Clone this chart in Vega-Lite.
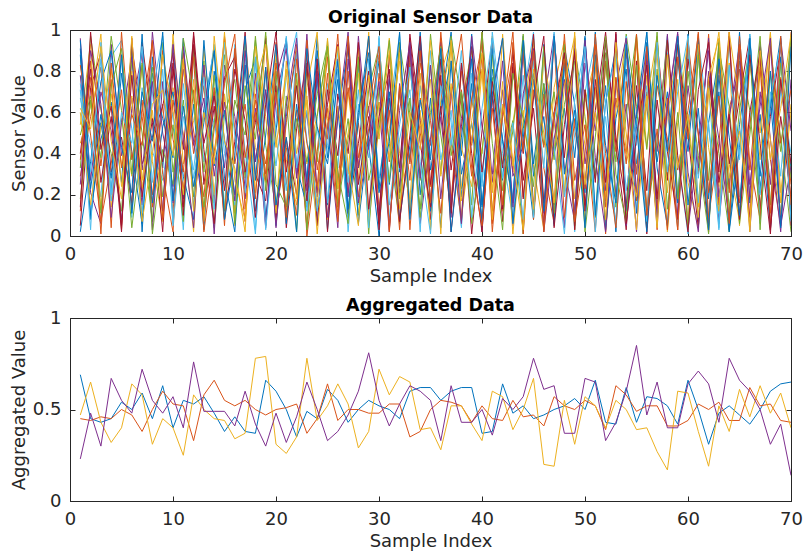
{
  "$schema": "https://vega.github.io/schema/vega-lite/v6.json",
  "background": "white",
  "padding": {"left": 9, "top": 8, "right": 11, "bottom": 0},
  "spacing": 10,
  "config": {
    "font": "DejaVu Sans",
    "view": {"stroke": "#262626", "strokeWidth": 1},
    "axis": {
      "grid": false,
      "tickSize": -5,
      "labelFlush": false,
      "domainColor": "#262626",
      "tickColor": "#262626",
      "labelColor": "#262626",
      "titleColor": "#262626",
      "labelFont": "DejaVu Sans",
      "titleFont": "DejaVu Sans",
      "labelFontSize": 18,
      "titleFontSize": 18,
      "titleFontWeight": "normal",
      "labelPadding": 14,
      "titlePadding": 4
    },
    "axisX": {"labelFlush": false},
    "title": {"font": "DejaVu Sans", "fontSize": 17.5, "fontWeight": "bold", "color": "#000000", "offset": -5}
  },
  "datasets": {
    "s": [
      {"x":1,"a":0.91,"b":0.12,"c":0.45,"d":0.78,"e":0.33,"f":0.67,"g":0.05,"h":0.88,"i":0.29,"j":0.54,"k":0.96,"l":0.18,"m":0.71,"n":0.40,"o":0.02,"p":0.83,"q":0.60,"r":0.25,"s":0.49,"t":0.74,"u":0.14,"v":0.95,"w":0.37,"y":0.62},
      {"x":2,"a":0.08,"b":0.85,"c":0.63,"d":0.21,"e":0.97,"f":0.44,"g":0.72,"h":0.10,"i":0.58,"j":0.93,"k":0.27,"l":0.66,"m":0.03,"n":0.81,"o":0.36,"p":0.49,"q":0.15,"r":0.90,"s":0.68,"t":0.31,"u":0.99,"v":0.23,"w":0.77,"y":0.52},
      {"x":3,"a":0.55,"b":0.34,"c":0.98,"d":0.06,"e":0.61,"f":0.19,"g":0.89,"h":0.47,"i":0.82,"j":0.13,"k":0.70,"l":0.38,"m":0.94,"n":0.26,"o":0.75,"p":0.07,"q":0.53,"r":0.64,"s":0.11,"t":0.86,"u":0.42,"v":0.59,"w":0.01,"y":0.92},
      {"x":4,"a":0.22,"b":0.76,"c":0.14,"d":0.93,"e":0.40,"f":0.87,"g":0.31,"h":0.65,"i":0.04,"j":0.69,"k":0.51,"l":0.97,"m":0.20,"n":0.58,"o":0.90,"p":0.35,"q":0.81,"r":0.09,"s":0.73,"t":0.17,"u":0.63,"v":0.28,"w":0.84,"y":0.46},
      {"x":5,"a":0.79,"b":0.03,"c":0.57,"d":0.39,"e":0.12,"f":0.95,"g":0.48,"h":0.26,"i":0.99,"j":0.34,"k":0.08,"l":0.61,"m":0.86,"n":0.02,"o":0.43,"p":0.71,"q":0.24,"r":0.55,"s":0.91,"t":0.60,"u":0.05,"v":0.88,"w":0.33,"y":0.18},
      {"x":6,"a":0.41,"b":0.92,"c":0.29,"d":0.67,"e":0.85,"f":0.09,"g":0.16,"h":0.93,"i":0.37,"j":0.80,"k":0.62,"l":0.04,"m":0.52,"n":0.96,"o":0.21,"p":0.13,"q":0.68,"r":0.87,"s":0.30,"t":0.45,"u":0.78,"v":0.11,"w":0.59,"y":0.97},
      {"x":7,"a":0.06,"b":0.58,"c":0.83,"d":0.15,"e":0.50,"f":0.72,"g":0.94,"h":0.02,"i":0.66,"j":0.23,"k":0.89,"l":0.45,"m":0.11,"n":0.35,"o":0.98,"p":0.60,"q":0.07,"r":0.32,"s":0.84,"t":0.92,"u":0.19,"v":0.70,"w":0.44,"y":0.27},
      {"x":8,"a":0.87,"b":0.20,"c":0.36,"d":0.99,"e":0.07,"f":0.41,"g":0.55,"h":0.79,"i":0.14,"j":0.61,"k":0.03,"l":0.82,"m":0.69,"n":0.48,"o":0.16,"p":0.94,"q":0.39,"r":0.75,"s":0.01,"t":0.26,"u":0.57,"v":0.46,"w":0.95,"y":0.64},
      {"x":9,"a":0.33,"b":0.64,"c":0.07,"d":0.50,"e":0.94,"f":0.27,"g":0.02,"h":0.57,"i":0.90,"j":0.09,"k":0.75,"l":0.19,"m":0.97,"n":0.63,"o":0.53,"p":0.30,"q":0.88,"r":0.12,"s":0.42,"t":0.81,"u":0.36,"v":0.99,"w":0.08,"y":0.71},
      {"x":10,"a":0.95,"b":0.11,"c":0.72,"d":0.24,"e":0.31,"f":0.60,"g":0.81,"h":0.38,"i":0.47,"j":0.98,"k":0.16,"l":0.54,"m":0.06,"n":0.89,"o":0.70,"p":0.02,"q":0.61,"r":0.93,"s":0.25,"t":0.05,"u":0.84,"v":0.17,"w":0.66,"y":0.39},
      {"x":11,"a":0.18,"b":0.89,"c":0.50,"d":0.81,"e":0.66,"f":0.03,"g":0.42,"h":0.96,"i":0.23,"j":0.35,"k":0.92,"l":0.07,"m":0.74,"n":0.14,"o":0.29,"p":0.85,"q":0.20,"r":0.47,"s":0.96,"t":0.58,"u":0.10,"v":0.63,"w":0.31,"y":0.86},
      {"x":12,"a":0.64,"b":0.40,"c":0.02,"d":0.46,"e":0.19,"f":0.88,"g":0.97,"h":0.13,"i":0.71,"j":0.56,"k":0.44,"l":0.91,"m":0.28,"n":0.99,"o":0.08,"p":0.51,"q":0.76,"r":0.04,"s":0.67,"t":0.32,"u":0.93,"v":0.24,"w":0.87,"y":0.12},
      {"x":13,"a":0.03,"b":0.73,"c":0.91,"d":0.12,"e":0.85,"f":0.36,"g":0.25,"h":0.62,"i":0.09,"j":0.82,"k":0.67,"l":0.31,"m":0.58,"n":0.42,"o":0.95,"p":0.19,"q":0.07,"r":0.83,"s":0.14,"t":0.77,"u":0.45,"v":0.55,"w":0.02,"y":0.60},
      {"x":14,"a":0.80,"b":0.16,"c":0.39,"d":0.70,"e":0.04,"f":0.57,"g":0.63,"h":0.91,"i":0.52,"j":0.20,"k":0.01,"l":0.78,"m":0.93,"n":0.06,"o":0.34,"p":0.72,"q":0.97,"r":0.29,"s":0.55,"t":0.13,"u":0.68,"v":0.90,"w":0.41,"y":0.35},
      {"x":15,"a":0.47,"b":0.97,"c":0.68,"d":0.33,"e":0.59,"f":0.14,"g":0.08,"h":0.28,"i":0.96,"j":0.69,"k":0.83,"l":0.12,"m":0.40,"n":0.77,"o":0.61,"p":0.05,"q":0.46,"r":0.65,"s":0.88,"t":0.94,"u":0.22,"v":0.08,"w":0.74,"y":0.99},
      {"x":16,"a":0.12,"b":0.52,"c":0.05,"d":0.89,"e":0.76,"f":0.93,"g":0.46,"h":0.02,"i":0.35,"j":0.11,"k":0.58,"l":0.66,"m":0.15,"n":0.87,"o":0.20,"p":0.91,"q":0.33,"r":0.17,"s":0.06,"t":0.49,"u":0.81,"v":0.39,"w":0.98,"y":0.27},
      {"x":17,"a":0.92,"b":0.07,"c":0.84,"d":0.18,"e":0.28,"f":0.41,"g":0.99,"h":0.71,"i":0.64,"j":0.94,"k":0.24,"l":0.49,"m":0.86,"n":0.31,"o":0.83,"p":0.38,"q":0.02,"r":0.90,"s":0.73,"t":0.21,"u":0.56,"v":0.97,"w":0.13,"y":0.08},
      {"x":18,"a":0.36,"b":0.69,"c":0.21,"d":0.62,"e":0.97,"f":0.01,"g":0.30,"h":0.86,"i":0.18,"j":0.43,"k":0.79,"l":0.95,"m":0.03,"n":0.55,"o":0.12,"p":0.66,"q":0.92,"r":0.36,"s":0.47,"t":0.87,"u":0.09,"v":0.27,"w":0.60,"y":0.74},
      {"x":19,"a":0.71,"b":0.30,"c":0.97,"d":0.04,"e":0.44,"f":0.80,"g":0.17,"h":0.09,"i":0.82,"j":0.26,"k":0.05,"l":0.22,"m":0.68,"n":0.96,"o":0.49,"p":0.27,"q":0.58,"r":0.71,"s":0.99,"t":0.03,"u":0.64,"v":0.82,"w":0.35,"y":0.93},
      {"x":20,"a":0.05,"b":0.94,"c":0.48,"d":0.77,"e":0.13,"f":0.62,"g":0.73,"h":0.51,"i":0.07,"j":0.88,"k":0.67,"l":0.80,"m":0.34,"n":0.09,"o":0.93,"p":0.84,"q":0.11,"r":0.04,"s":0.25,"t":0.56,"u":0.99,"v":0.15,"w":0.70,"y":0.43},
      {"x":21,"a":0.58,"b":0.25,"c":0.11,"d":0.95,"e":0.68,"f":0.22,"g":0.04,"h":0.96,"i":0.55,"j":0.37,"k":0.91,"l":0.08,"m":0.77,"n":0.47,"o":0.06,"p":0.43,"q":0.85,"r":0.63,"s":0.14,"t":0.97,"u":0.31,"v":0.48,"w":0.09,"y":0.81},
      {"x":22,"a":0.89,"b":0.61,"c":0.76,"d":0.29,"e":0.02,"f":0.90,"g":0.52,"h":0.34,"i":0.93,"j":0.15,"k":0.28,"l":0.57,"m":0.99,"n":0.20,"o":0.64,"p":0.10,"q":0.40,"r":0.96,"s":0.79,"t":0.33,"u":0.73,"v":0.02,"w":0.86,"y":0.18},
      {"x":23,"a":0.26,"b":0.04,"c":0.35,"d":0.60,"e":0.81,"f":0.47,"g":0.88,"h":0.14,"i":0.00,"j":0.72,"k":0.98,"l":0.36,"m":0.12,"n":0.84,"o":0.27,"p":0.95,"q":0.68,"r":0.22,"s":0.03,"t":0.61,"u":0.17,"v":0.91,"w":0.45,"y":0.66},
      {"x":24,"a":0.97,"b":0.83,"c":0.59,"d":0.08,"e":0.36,"f":0.06,"g":0.21,"h":0.77,"i":0.41,"j":0.99,"k":0.19,"l":0.69,"m":0.53,"n":0.05,"o":0.90,"p":0.32,"q":0.14,"r":0.80,"s":0.58,"t":0.12,"u":0.86,"v":0.53,"w":0.24,"y":0.01},
      {"x":25,"a":0.15,"b":0.47,"c":0.90,"d":0.53,"e":0.95,"f":0.74,"g":0.64,"h":0.03,"i":0.87,"j":0.08,"k":0.55,"l":0.93,"m":0.16,"n":0.71,"o":0.38,"p":0.62,"q":0.96,"r":0.09,"s":0.92,"t":0.44,"u":0.02,"v":0.35,"w":0.79,"y":0.57},
      {"x":26,"a":0.62,"b":0.98,"c":0.17,"d":0.86,"e":0.23,"f":0.33,"g":0.93,"h":0.58,"i":0.26,"j":0.63,"k":0.04,"l":0.14,"m":0.81,"n":0.39,"o":0.85,"p":0.07,"q":0.23,"r":0.57,"s":0.31,"t":0.90,"u":0.69,"v":0.76,"w":0.10,"y":0.92},
      {"x":27,"a":0.09,"b":0.21,"c":0.70,"d":0.19,"e":0.57,"f":0.97,"g":0.11,"h":0.92,"i":0.72,"j":0.30,"k":0.86,"l":0.47,"m":0.02,"n":0.94,"o":0.11,"p":0.80,"q":0.50,"r":0.99,"s":0.06,"t":0.26,"u":0.40,"v":0.13,"w":0.97,"y":0.34},
      {"x":28,"a":0.83,"b":0.55,"c":0.27,"d":0.97,"e":0.10,"f":0.15,"g":0.45,"h":0.06,"i":0.34,"j":0.91,"k":0.33,"l":0.85,"m":0.64,"n":0.25,"o":0.56,"p":0.19,"q":0.79,"r":0.16,"s":0.87,"t":0.71,"u":0.94,"v":0.60,"w":0.38,"y":0.05},
      {"x":29,"a":0.44,"b":0.10,"c":0.99,"d":0.42,"e":0.71,"f":0.86,"g":0.80,"h":0.49,"i":0.97,"j":0.05,"k":0.63,"l":0.01,"m":0.38,"n":0.58,"o":0.97,"p":0.52,"q":0.08,"r":0.44,"s":0.27,"t":0.04,"u":0.13,"v":0.89,"w":0.62,"y":0.78},
      {"x":30,"a":0.00,"b":0.79,"c":0.06,"d":0.65,"e":0.92,"f":0.28,"g":0.03,"h":0.85,"i":0.12,"j":0.54,"k":0.10,"l":0.72,"m":0.96,"n":0.07,"o":0.23,"p":0.88,"q":0.65,"r":0.75,"s":0.51,"t":0.97,"u":0.58,"v":0.21,"w":0.92,"y":0.47},
      {"x":31,"a":0.76,"b":0.36,"c":0.52,"d":0.02,"e":0.45,"f":0.60,"g":0.67,"h":0.25,"i":0.61,"j":0.96,"k":0.78,"l":0.26,"m":0.09,"n":0.88,"o":0.70,"p":0.02,"q":0.37,"r":0.05,"s":0.95,"t":0.15,"u":0.81,"v":0.46,"w":0.03,"y":0.90},
      {"x":32,"a":0.31,"b":0.92,"c":0.85,"d":0.74,"e":0.06,"f":0.98,"g":0.24,"h":0.69,"i":0.03,"j":0.40,"k":0.21,"l":0.94,"m":0.47,"n":0.33,"o":0.08,"p":0.73,"q":0.89,"r":0.61,"s":0.18,"t":0.54,"u":0.07,"v":0.99,"w":0.71,"y":0.13},
      {"x":33,"a":0.93,"b":0.03,"c":0.14,"d":0.36,"e":0.84,"f":0.11,"g":0.98,"h":0.37,"i":0.88,"j":0.18,"k":0.92,"l":0.59,"m":0.71,"n":0.96,"o":0.44,"p":0.35,"q":0.12,"r":0.94,"s":0.67,"t":0.82,"u":0.49,"v":0.08,"w":0.27,"y":0.60},
      {"x":34,"a":0.20,"b":0.67,"c":0.61,"d":0.91,"e":0.27,"f":0.73,"g":0.56,"h":0.94,"i":0.50,"j":0.79,"k":0.06,"l":0.13,"m":0.02,"n":0.45,"o":0.99,"p":0.90,"q":0.53,"r":0.28,"s":0.09,"t":0.36,"u":0.97,"v":0.66,"w":0.84,"y":0.42},
      {"x":35,"a":0.67,"b":0.44,"c":0.04,"d":0.17,"e":0.98,"f":0.39,"g":0.08,"h":0.12,"i":0.24,"j":0.03,"k":0.47,"l":0.83,"m":0.90,"n":0.14,"o":0.32,"p":0.16,"q":0.76,"r":0.83,"s":0.60,"t":0.01,"u":0.25,"v":0.37,"w":0.56,"y":0.95},
      {"x":36,"a":0.04,"b":0.96,"c":0.79,"d":0.58,"e":0.49,"f":0.89,"g":0.86,"h":0.63,"i":0.95,"j":0.66,"k":0.94,"l":0.30,"m":0.37,"n":0.78,"o":0.61,"p":0.99,"q":0.01,"r":0.18,"s":0.92,"t":0.73,"u":0.63,"v":0.91,"w":0.11,"y":0.29},
      {"x":37,"a":0.85,"b":0.14,"c":0.95,"d":0.09,"e":0.14,"f":0.55,"g":0.32,"h":0.99,"i":0.17,"j":0.92,"k":0.15,"l":0.97,"m":0.61,"n":0.02,"o":0.85,"p":0.46,"q":0.95,"r":0.72,"s":0.39,"t":0.44,"u":0.11,"v":0.02,"w":0.68,"y":0.74},
      {"x":38,"a":0.39,"b":0.71,"c":0.23,"d":0.83,"e":0.63,"f":0.05,"g":0.70,"h":0.30,"i":0.80,"j":0.10,"k":0.57,"l":0.65,"m":0.04,"n":0.53,"o":0.19,"p":0.07,"q":0.43,"r":0.06,"s":0.70,"t":0.90,"u":0.84,"v":0.48,"w":0.98,"y":0.17},
      {"x":39,"a":0.98,"b":0.29,"c":0.66,"d":0.45,"e":0.90,"f":0.79,"g":0.01,"h":0.55,"i":0.44,"j":0.47,"k":0.87,"l":0.06,"m":0.87,"n":0.92,"o":0.74,"p":0.67,"q":0.24,"r":0.97,"s":0.15,"t":0.09,"u":0.40,"v":0.86,"w":0.33,"y":0.56},
      {"x":40,"a":0.14,"b":0.88,"c":0.40,"d":0.96,"e":0.03,"f":0.24,"g":0.51,"h":0.07,"i":0.99,"j":0.81,"k":0.02,"l":0.41,"m":0.26,"n":0.31,"o":0.04,"p":0.93,"q":0.80,"r":0.53,"s":0.99,"t":0.62,"u":0.02,"v":0.15,"w":0.05,"y":0.89},
      {"x":41,"a":0.70,"b":0.02,"c":0.97,"d":0.26,"e":0.77,"f":0.93,"g":0.96,"h":0.81,"i":0.06,"j":0.21,"k":0.66,"l":0.88,"m":0.99,"n":0.68,"o":0.91,"p":0.12,"q":0.08,"r":0.30,"s":0.45,"t":0.96,"u":0.75,"v":0.69,"w":0.62,"y":0.22},
      {"x":42,"a":0.27,"b":0.59,"c":0.12,"d":0.71,"e":0.35,"f":0.40,"g":0.13,"h":0.47,"i":0.63,"j":0.75,"k":0.96,"l":0.22,"m":0.55,"n":0.07,"o":0.46,"p":0.58,"q":0.98,"r":0.85,"s":0.03,"t":0.28,"u":0.33,"v":0.96,"w":0.15,"y":0.64},
      {"x":43,"a":0.82,"b":0.99,"c":0.55,"d":0.05,"e":0.56,"f":0.08,"g":0.84,"h":0.16,"i":0.31,"j":0.01,"k":0.29,"l":0.51,"m":0.19,"n":0.82,"o":0.17,"p":0.88,"q":0.34,"r":0.14,"s":0.79,"t":0.55,"u":0.91,"v":0.06,"w":0.94,"y":0.37},
      {"x":44,"a":0.50,"b":0.19,"c":0.88,"d":0.90,"e":0.01,"f":0.67,"g":0.27,"h":0.97,"i":0.92,"j":0.57,"k":0.44,"l":0.98,"m":0.78,"n":0.40,"o":0.95,"p":0.01,"q":0.61,"r":0.69,"s":0.57,"t":0.08,"u":0.18,"v":0.52,"w":0.41,"y":0.03},
      {"x":45,"a":0.08,"b":0.76,"c":0.34,"d":0.15,"e":0.96,"f":0.99,"g":0.62,"h":0.35,"i":0.08,"j":0.96,"k":0.89,"l":0.10,"m":0.09,"n":0.98,"o":0.29,"p":0.71,"q":0.13,"r":0.91,"s":0.24,"t":0.85,"u":0.67,"v":0.79,"w":0.90,"y":0.81},
      {"x":46,"a":0.93,"b":0.33,"c":0.03,"d":0.64,"e":0.44,"f":0.13,"g":0.05,"h":0.74,"i":0.69,"j":0.13,"k":0.11,"l":0.74,"m":0.87,"n":0.16,"o":0.58,"p":0.43,"q":0.87,"r":0.02,"s":0.92,"t":0.33,"u":0.97,"v":0.12,"w":0.02,"y":0.50},
      {"x":47,"a":0.40,"b":0.06,"c":0.72,"d":0.98,"e":0.70,"f":0.56,"g":0.97,"h":0.05,"i":0.15,"j":0.42,"k":0.60,"l":0.37,"m":0.43,"n":0.60,"o":0.06,"p":0.94,"q":0.55,"r":0.47,"s":0.11,"t":0.99,"u":0.04,"v":0.97,"w":0.58,"y":0.16},
      {"x":48,"a":0.62,"b":0.91,"c":0.95,"d":0.33,"e":0.20,"f":0.82,"g":0.38,"h":0.92,"i":0.98,"j":0.90,"k":0.04,"l":0.93,"m":0.01,"n":0.89,"o":0.84,"p":0.09,"q":0.21,"r":0.76,"s":0.64,"t":0.19,"u":0.54,"v":0.30,"w":0.86,"y":0.73},
      {"x":49,"a":0.11,"b":0.52,"c":0.18,"d":0.07,"e":0.91,"f":0.02,"g":0.90,"h":0.64,"i":0.27,"j":0.03,"k":0.96,"l":0.05,"m":0.66,"n":0.03,"o":0.38,"p":0.57,"q":0.99,"r":0.10,"s":0.85,"t":0.49,"u":0.89,"v":0.61,"w":0.07,"y":0.97},
      {"x":50,"a":0.96,"b":0.23,"c":0.47,"d":0.84,"e":0.58,"f":0.70,"g":0.15,"h":0.21,"i":0.54,"j":0.65,"k":0.35,"l":0.71,"m":0.92,"n":0.71,"o":0.97,"p":0.23,"q":0.06,"r":0.95,"s":0.02,"t":0.92,"u":0.12,"v":0.04,"w":0.40,"y":0.25},
      {"x":51,"a":0.28,"b":0.84,"c":0.89,"d":0.51,"e":0.09,"f":0.94,"g":0.61,"h":0.99,"i":0.02,"j":0.86,"k":0.72,"l":0.28,"m":0.12,"n":0.26,"o":0.10,"p":0.98,"q":0.72,"r":0.38,"s":0.48,"t":0.02,"u":0.76,"v":0.88,"w":0.93,"y":0.60},
      {"x":52,"a":0.73,"b":0.01,"c":0.05,"d":0.95,"e":0.84,"f":0.32,"g":0.99,"h":0.03,"i":0.85,"j":0.19,"k":0.22,"l":0.89,"m":0.58,"n":0.95,"o":0.65,"p":0.40,"q":0.17,"r":0.02,"s":0.97,"t":0.65,"u":0.26,"v":0.44,"w":0.14,"y":0.08},
      {"x":53,"a":0.02,"b":0.67,"c":0.61,"d":0.19,"e":0.36,"f":0.07,"g":0.44,"h":0.57,"i":0.41,"j":0.77,"k":0.98,"l":0.14,"m":0.05,"n":0.48,"o":0.91,"p":0.04,"q":0.88,"r":0.73,"s":0.30,"t":0.89,"u":0.99,"v":0.16,"w":0.77,"y":0.94},
      {"x":54,"a":0.89,"b":0.40,"c":0.96,"d":0.64,"e":0.98,"f":0.86,"g":0.03,"h":0.81,"i":0.93,"j":0.08,"k":0.05,"l":0.59,"m":0.97,"n":0.14,"o":0.12,"p":0.75,"q":0.50,"r":0.96,"s":0.07,"t":0.22,"u":0.06,"v":0.93,"w":0.35,"y":0.41},
      {"x":55,"a":0.35,"b":0.95,"c":0.30,"d":0.02,"e":0.63,"f":0.44,"g":0.73,"h":0.11,"i":0.17,"j":0.97,"k":0.58,"l":0.98,"m":0.30,"n":0.85,"o":0.59,"p":0.30,"q":0.03,"r":0.21,"s":0.83,"t":0.57,"u":0.48,"v":0.53,"w":0.98,"y":0.19},
      {"x":56,"a":0.64,"b":0.12,"c":0.78,"d":0.88,"e":0.04,"f":0.99,"g":0.22,"h":0.94,"i":0.70,"j":0.43,"k":0.91,"l":0.08,"m":0.73,"n":0.01,"o":0.99,"p":0.92,"q":0.65,"r":0.85,"s":0.42,"t":0.07,"u":0.83,"v":0.02,"w":0.10,"y":0.68},
      {"x":57,"a":0.07,"b":0.73,"c":0.13,"d":0.41,"e":0.81,"f":0.16,"g":0.95,"h":0.36,"i":0.03,"j":0.89,"k":0.14,"l":0.46,"m":0.06,"n":0.66,"o":0.33,"p":0.13,"q":0.97,"r":0.09,"s":0.99,"t":0.94,"u":0.18,"v":0.78,"w":0.52,"y":0.04},
      {"x":58,"a":0.97,"b":0.47,"c":0.58,"d":0.98,"e":0.29,"f":0.62,"g":0.41,"h":0.70,"i":0.87,"j":0.02,"k":0.63,"l":0.95,"m":0.89,"n":0.27,"o":0.05,"p":0.67,"q":0.21,"r":0.62,"s":0.13,"t":0.31,"u":0.95,"v":0.41,"w":0.03,"y":0.88},
      {"x":59,"a":0.19,"b":0.03,"c":0.92,"d":0.10,"e":0.97,"f":0.05,"g":0.08,"h":0.16,"i":0.32,"j":0.55,"k":0.99,"l":0.18,"m":0.38,"n":0.93,"o":0.86,"p":0.03,"q":0.76,"r":0.98,"s":0.60,"t":0.70,"u":0.39,"v":0.97,"w":0.87,"y":0.33},
      {"x":60,"a":0.55,"b":0.89,"c":0.26,"d":0.73,"e":0.53,"f":0.90,"g":0.86,"h":0.98,"i":0.61,"j":0.96,"k":0.03,"l":0.80,"m":0.01,"n":0.49,"o":0.41,"p":0.95,"q":0.05,"r":0.31,"s":0.04,"t":0.97,"u":0.02,"v":0.15,"w":0.47,"y":0.59},
      {"x":61,"a":0.91,"b":0.30,"c":0.04,"d":0.33,"e":0.15,"f":0.28,"g":0.50,"h":0.07,"i":0.98,"j":0.14,"k":0.45,"l":0.39,"m":0.96,"n":0.04,"o":0.96,"p":0.49,"q":0.93,"r":0.02,"s":0.88,"t":0.16,"u":0.71,"v":0.62,"w":0.99,"y":0.09},
      {"x":62,"a":0.05,"b":0.98,"c":0.69,"d":0.96,"e":0.76,"f":0.73,"g":0.02,"h":0.55,"i":0.09,"j":0.72,"k":0.90,"l":0.01,"m":0.52,"n":0.79,"o":0.18,"p":0.06,"q":0.43,"r":0.80,"s":0.27,"t":0.55,"u":0.94,"v":0.03,"w":0.21,"y":0.77},
      {"x":63,"a":0.78,"b":0.15,"c":0.99,"d":0.06,"e":0.40,"f":0.04,"g":0.94,"h":0.88,"i":0.45,"j":0.24,"k":0.19,"l":0.91,"m":0.11,"n":0.31,"o":0.70,"p":0.84,"q":0.12,"r":0.47,"s":0.95,"t":0.03,"u":0.26,"v":0.86,"w":0.68,"y":0.96},
      {"x":64,"a":0.23,"b":0.62,"c":0.35,"d":0.58,"e":0.02,"f":0.95,"g":0.35,"h":0.02,"i":0.99,"j":0.84,"k":0.57,"l":0.63,"m":0.83,"n":0.97,"o":0.03,"p":0.21,"q":0.99,"r":0.08,"s":0.12,"t":0.82,"u":0.59,"v":0.48,"w":0.06,"y":0.28},
      {"x":65,"a":0.99,"b":0.81,"c":0.07,"d":0.85,"e":0.88,"f":0.19,"g":0.67,"h":0.43,"i":0.16,"j":0.05,"k":0.93,"l":0.06,"m":0.37,"n":0.09,"o":0.54,"p":0.97,"q":0.64,"r":0.91,"s":0.61,"t":0.39,"u":0.08,"v":0.10,"w":0.93,"y":0.51},
      {"x":66,"a":0.16,"b":0.09,"c":0.83,"d":0.19,"e":0.61,"f":0.57,"g":0.97,"h":0.96,"i":0.54,"j":0.91,"k":0.02,"l":0.49,"m":0.98,"n":0.60,"o":0.90,"p":0.36,"q":0.02,"r":0.25,"s":0.92,"t":0.98,"u":0.88,"v":0.96,"w":0.32,"y":0.05},
      {"x":67,"a":0.59,"b":0.92,"c":0.50,"d":0.94,"e":0.10,"f":0.88,"g":0.13,"h":0.21,"i":0.88,"j":0.37,"k":0.70,"l":0.97,"m":0.06,"n":0.89,"o":0.23,"p":0.08,"q":0.81,"r":0.63,"s":0.03,"t":0.20,"u":0.45,"v":0.29,"w":0.82,"y":0.90},
      {"x":68,"a":0.04,"b":0.37,"c":0.98,"d":0.47,"e":0.93,"f":0.03,"g":0.58,"h":0.66,"i":0.06,"j":0.99,"k":0.25,"l":0.15,"m":0.70,"n":0.03,"o":0.62,"p":0.92,"q":0.47,"r":0.96,"s":0.80,"t":0.66,"u":0.01,"v":0.80,"w":0.11,"y":0.37},
      {"x":69,"a":0.87,"b":0.05,"c":0.21,"d":0.02,"e":0.47,"f":0.71,"g":0.92,"h":0.09,"i":0.77,"j":0.16,"k":0.96,"l":0.84,"m":0.29,"n":0.58,"o":0.97,"p":0.45,"q":0.10,"r":0.05,"s":0.41,"t":0.93,"u":0.76,"v":0.04,"w":0.97,"y":0.62},
      {"x":70,"a":0.32,"b":0.99,"c":0.64,"d":0.76,"e":0.02,"f":0.40,"g":0.05,"h":0.97,"i":0.25,"j":0.60,"k":0.51,"l":0.28,"m":0.92,"n":0.19,"o":0.08,"p":0.71,"q":0.96,"r":0.34,"s":0.97,"t":0.07,"u":0.35,"v":0.92,"w":0.15,"y":0.98}
    ],
    "g": [
      {"x":1,"g1":0.69,"g2":0.45,"g3":0.47,"g4":0.23},{"x":2,"g1":0.45,"g2":0.44,"g3":0.65,"g4":0.48},{"x":3,"g1":0.43,"g2":0.46,"g3":0.43,"g4":0.30},{"x":4,"g1":0.45,"g2":0.45,"g3":0.32,"g4":0.67},{"x":5,"g1":0.54,"g2":0.50,"g3":0.40,"g4":0.55},
      {"x":6,"g1":0.50,"g2":0.47,"g3":0.64,"g4":0.48},{"x":7,"g1":0.59,"g2":0.38,"g3":0.58,"g4":0.72},{"x":8,"g1":0.45,"g2":0.50,"g3":0.31,"g4":0.55},{"x":9,"g1":0.63,"g2":0.60,"g3":0.45,"g4":0.48},{"x":10,"g1":0.40,"g2":0.53,"g3":0.40,"g4":0.57},
      {"x":11,"g1":0.55,"g2":0.52,"g3":0.25,"g4":0.40},{"x":12,"g1":0.53,"g2":0.33,"g3":0.58,"g4":0.76},{"x":13,"g1":0.57,"g2":0.58,"g3":0.50,"g4":0.49},{"x":14,"g1":0.48,"g2":0.66,"g3":0.45,"g4":0.49},{"x":15,"g1":0.38,"g2":0.55,"g3":0.44,"g4":0.49},
      {"x":16,"g1":0.46,"g2":0.52,"g3":0.34,"g4":0.41},{"x":17,"g1":0.38,"g2":0.55,"g3":0.37,"g4":0.60},{"x":18,"g1":0.37,"g2":0.50,"g3":0.78,"g4":0.42},{"x":19,"g1":0.66,"g2":0.47,"g3":0.79,"g4":0.30},{"x":20,"g1":0.60,"g2":0.50,"g3":0.31,"g4":0.48},
      {"x":21,"g1":0.50,"g2":0.51,"g3":0.26,"g4":0.32},{"x":22,"g1":0.35,"g2":0.53,"g3":0.35,"g4":0.46},{"x":23,"g1":0.49,"g2":0.37,"g3":0.78,"g4":0.65},{"x":24,"g1":0.45,"g2":0.45,"g3":0.44,"g4":0.50},{"x":25,"g1":0.61,"g2":0.64,"g3":0.52,"g4":0.33},
      {"x":26,"g1":0.55,"g2":0.44,"g3":0.64,"g4":0.38},{"x":27,"g1":0.43,"g2":0.50,"g3":0.53,"g4":0.47},{"x":28,"g1":0.50,"g2":0.50,"g3":0.29,"g4":0.60},{"x":29,"g1":0.55,"g2":0.48,"g3":0.38,"g4":0.81},{"x":30,"g1":0.52,"g2":0.48,"g3":0.72,"g4":0.55},
      {"x":31,"g1":0.50,"g2":0.53,"g3":0.58,"g4":0.41},{"x":32,"g1":0.45,"g2":0.53,"g3":0.68,"g4":0.53},{"x":33,"g1":0.60,"g2":0.35,"g3":0.65,"g4":0.63},{"x":34,"g1":0.62,"g2":0.38,"g3":0.39,"g4":0.60},{"x":35,"g1":0.62,"g2":0.50,"g3":0.40,"g4":0.55},
      {"x":36,"g1":0.55,"g2":0.55,"g3":0.28,"g4":0.33},{"x":37,"g1":0.60,"g2":0.54,"g3":0.52,"g4":0.63},{"x":38,"g1":0.62,"g2":0.52,"g3":0.52,"g4":0.43},{"x":39,"g1":0.62,"g2":0.43,"g3":0.42,"g4":0.43},{"x":40,"g1":0.37,"g2":0.52,"g3":0.33,"g4":0.50},
      {"x":41,"g1":0.38,"g2":0.45,"g3":0.60,"g4":0.36},{"x":42,"g1":0.64,"g2":0.44,"g3":0.57,"g4":0.56},{"x":43,"g1":0.48,"g2":0.55,"g3":0.39,"g4":0.50},{"x":44,"g1":0.52,"g2":0.46,"g3":0.50,"g4":0.57},{"x":45,"g1":0.45,"g2":0.47,"g3":0.67,"g4":0.78},
      {"x":46,"g1":0.47,"g2":0.41,"g3":0.20,"g4":0.61},{"x":47,"g1":0.50,"g2":0.57,"g3":0.19,"g4":0.63},{"x":48,"g1":0.52,"g2":0.52,"g3":0.55,"g4":0.37},{"x":49,"g1":0.56,"g2":0.50,"g3":0.31,"g4":0.37},{"x":50,"g1":0.50,"g2":0.55,"g3":0.57,"g4":0.67},
      {"x":51,"g1":0.66,"g2":0.52,"g3":0.52,"g4":0.65},{"x":52,"g1":0.43,"g2":0.39,"g3":0.40,"g4":0.33},{"x":53,"g1":0.42,"g2":0.63,"g3":0.55,"g4":0.43},{"x":54,"g1":0.62,"g2":0.58,"g3":0.50,"g4":0.60},{"x":55,"g1":0.43,"g2":0.49,"g3":0.39,"g4":0.85},
      {"x":56,"g1":0.57,"g2":0.52,"g3":0.40,"g4":0.47},{"x":57,"g1":0.56,"g2":0.52,"g3":0.27,"g4":0.65},{"x":58,"g1":0.52,"g2":0.41,"g3":0.17,"g4":0.40},{"x":59,"g1":0.42,"g2":0.41,"g3":0.60,"g4":0.40},{"x":60,"g1":0.66,"g2":0.44,"g3":0.59,"g4":0.64},
      {"x":61,"g1":0.50,"g2":0.53,"g3":0.38,"g4":0.71},{"x":62,"g1":0.31,"g2":0.50,"g3":0.19,"g4":0.64},{"x":63,"g1":0.48,"g2":0.54,"g3":0.52,"g4":0.43},{"x":64,"g1":0.52,"g2":0.44,"g3":0.38,"g4":0.78},{"x":65,"g1":0.47,"g2":0.44,"g3":0.61,"g4":0.66},
      {"x":66,"g1":0.42,"g2":0.62,"g3":0.46,"g4":0.60},{"x":67,"g1":0.50,"g2":0.52,"g3":0.63,"g4":0.50},{"x":68,"g1":0.60,"g2":0.53,"g3":0.48,"g4":0.31},{"x":69,"g1":0.64,"g2":0.44,"g3":0.59,"g4":0.42},{"x":70,"g1":0.65,"g2":0.43,"g3":0.40,"g4":0.14}
    ]
  },
  "vconcat": [
    {
      "width": 721,
      "height": 206,
      "title": {"text": "Original Sensor Data"},
      "data": {"name": "s"},
      "transform": [{"fold": ["a","b","c","d","e","f","g","h","i","j","k","l","m","n","o","p","q","r","s","t","u","v","w","y"], "as": ["sensor", "value"]}],
      "layer": [
        {
          "mark": {"type": "line", "strokeWidth": 1, "clip": true},
          "encoding": {
            "x": {"field": "x", "type": "quantitative", "scale": {"domain": [0, 70], "nice": false}, "axis": {"values": [0,10,20,30,40,50,60,70], "title": "Sample Index", "labelFlush": false}},
            "y": {"field": "value", "type": "quantitative", "scale": {"domain": [0, 1], "nice": false}, "axis": {"values": [0,0.2,0.4,0.6,0.8,1], "format": "~g", "title": "Sensor Value"}},
            "color": {"field": "sensor", "type": "nominal", "legend": null,
              "scale": {"domain": ["a","b","c","d","e","f","g","h","i","j","k","l","m","n","o","p","q","r","s","t","u","v","w","y"],
                        "range": ["#0072BD","#D95319","#EDB120","#7E2F8E","#77AC30","#4DBEEE","#A2142F","#0072BD","#D95319","#EDB120","#7E2F8E","#77AC30","#4DBEEE","#A2142F","#0072BD","#D95319","#EDB120","#7E2F8E","#77AC30","#4DBEEE","#A2142F","#0072BD","#D95319","#EDB120"]}}
          }
        },
        {
          "mark": {"type": "line", "opacity": 0},
          "encoding": {
            "x": {"field": "x", "type": "quantitative", "scale": {"domain": [0, 70], "nice": false}, "axis": {"orient": "top", "values": [0,10,20,30,40,50,60,70], "labels": false, "title": null, "domain": false}},
            "y": {"field": "value", "type": "quantitative", "scale": {"domain": [0, 1], "nice": false}, "axis": {"orient": "right", "values": [0,0.2,0.4,0.6,0.8,1], "labels": false, "title": null, "domain": false}},
            "detail": {"field": "sensor", "type": "nominal"}
          }
        }
      ],
      "resolve": {"axis": {"x": "independent", "y": "independent"}}
    },
    {
      "width": 721,
      "height": 183,
      "title": {"text": "Aggregated Data"},
      "data": {"name": "g"},
      "transform": [{"fold": ["g1","g2","g3","g4"], "as": ["group", "value"]}],
      "layer": [
        {
          "mark": {"type": "line", "strokeWidth": 1, "clip": true},
          "encoding": {
            "x": {"field": "x", "type": "quantitative", "scale": {"domain": [0, 70], "nice": false}, "axis": {"values": [0,10,20,30,40,50,60,70], "title": "Sample Index", "labelFlush": false}},
            "y": {"field": "value", "type": "quantitative", "scale": {"domain": [0, 1], "nice": false}, "axis": {"values": [0,0.5,1], "format": "~g", "title": "Aggregated Value"}},
            "color": {"field": "group", "type": "nominal", "legend": null,
              "scale": {"domain": ["g1","g2","g3","g4"], "range": ["#0072BD","#D95319","#EDB120","#7E2F8E"]}}
          }
        },
        {
          "mark": {"type": "line", "opacity": 0},
          "encoding": {
            "x": {"field": "x", "type": "quantitative", "scale": {"domain": [0, 70], "nice": false}, "axis": {"orient": "top", "values": [0,10,20,30,40,50,60,70], "labels": false, "title": null, "domain": false}},
            "y": {"field": "value", "type": "quantitative", "scale": {"domain": [0, 1], "nice": false}, "axis": {"orient": "right", "values": [0,0.5,1], "labels": false, "title": null, "domain": false}},
            "detail": {"field": "group", "type": "nominal"}
          }
        }
      ],
      "resolve": {"axis": {"x": "independent", "y": "independent"}}
    }
  ]
}
